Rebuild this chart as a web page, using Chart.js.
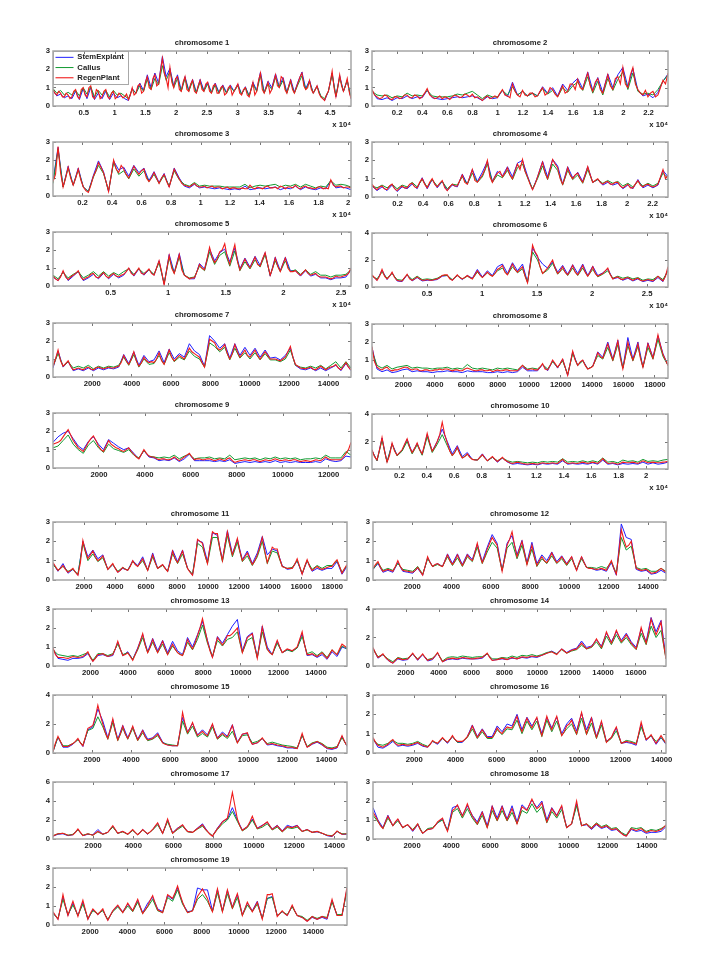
<!DOCTYPE html>
<html><head><meta charset="utf-8">
<script src="https://cdn.jsdelivr.net/npm/chart.js@4"></script>
<style>
html,body{margin:0;padding:0;background:#fff;width:720px;height:960px;overflow:hidden}
canvas{position:absolute;filter:blur(0.4px)}
</style></head><body>
<script>
const seriesNames=["StemExplant","Callus","RegenPlant"];
const titles=["chromosome 1","chromosome 2","chromosome 3","chromosome 4","chromosome 5","chromosome 6","chromosome 7","chromosome 8","chromosome 9","chromosome 10","chromosome 11","chromosome 12","chromosome 13","chromosome 14","chromosome 15","chromosome 16","chromosome 17","chromosome 18","chromosome 19"];
const xMaxes=[48400,23550,20200,23200,25870,26900,15140,18830,12970,21600,18950,14910,15650,17830,15050,14215,14630,14980,15810];
const xSteps=[5000,2000,2000,2000,5000,5000,2000,2000,2000,2000,2000,2000,2000,2000,2000,2000,2000,2000,2000];
const yMaxes=[3,3,3,3,3,4,3,3,3,4,3,3,3,4,4,3,6,3,3];
const ySteps=[1,1,1,1,1,2,1,1,1,2,1,1,1,2,2,1,2,1,1];
const hasExponent=[1,1,1,1,1,1,0,0,0,1,0,0,0,0,0,0,0,0,0];

const regen1=[.9,.7,.6,.8,.7,.5,.5,.7,.6,.4,.5,.8,.9,.5,.4,.9,1.0,.6,.5,1.0,1.1,.5,.4,.9,.8,.4,.5,.8,.9,.5,.4,.7,.8,.4,.5,.7,.6,.45,.5,.65,.35,.6,1.0,.6,.7,1.1,1.2,.7,.8,1.3,1.6,1.0,.9,1.5,1.7,1.1,1.2,1.9,2.6,1.8,1.5,1.0,2.1,1.3,1.0,1.5,1.6,.9,.8,1.3,1.6,.9,.8,1.2,1.4,.8,.7,1.1,1.4,.9,.8,1.2,1.3,.8,.7,1.1,1.2,.7,.7,1.0,1.1,.6,.7,1.0,1.1,.6,.8,1.0,1.2,.7,.6,.9,1.0,.6,.5,.9,1.3,.6,.8,1.4,1.8,.9,.7,1.0,1.3,.7,.9,1.3,1.7,1.1,1.0,1.6,1.5,.9,.7,1.1,1.4,.9,.7,1.0,1.3,1.6,1.8,1.1,.9,1.0,1.4,.9,.7,.9,1.1,.7,.5,.4,.3,.6,.8,1.3,1.9,1.0,.5,1.0,1.7,1.1,.8,1.1,1.5,.8,.4];
const stem1=[.85,.55,.65,.45,.55,.4,.8,.35,.95,.4,1.0,.35,.7,.4,.8,.35,.7,.45,.55,.4,.3,.95,.7,1.25,.85,1.7,1.0,1.8,1.25,2.7,1.6,2.05,1.1,1.7,.85,1.6,.85,1.45,.75,1.45,.85,1.3,.75,1.25,.75,1.15,.75,1.15,.8,1.2,.65,1.05,.55,1.3,.85,1.85,.75,1.35,1.0,1.75,1.05,1.55,.75,1.45,.75,1.35,1.85,.95,1.4,.7,1.1,.5,.3,.8,1.8,.5,1.65,.8,1.4,.4];
const callus1=[.95,.7,.85,.6,.75,.6,.85,.55,1.0,.65,1.05,.5,.85,.6,.85,.5,.85,.6,.7,.55,.4,.9,.7,1.1,.8,1.45,.9,1.5,1.15,2.2,1.4,1.9,1.0,1.5,.8,1.5,.8,1.35,.7,1.3,.8,1.2,.7,1.15,.7,1.05,.7,1.05,.8,1.1,.65,1.0,.55,1.2,.8,1.65,.7,1.2,.9,1.55,1.0,1.4,.7,1.3,.7,1.2,1.65,.9,1.3,.7,1.05,.55,.4,.8,1.7,.55,1.55,.8,1.4,.45];

const regen2=[.9,.6,.5,.4,.45,.6,.55,.4,.35,.5,.5,.4,.45,.6,.6,.45,.45,.6,.55,.4,.5,.7,.95,.6,.5,.4,.45,.55,.4,.5,.45,.35,.5,.6,.55,.45,.5,.65,.6,.5,.65,.45,.5,.4,.3,.45,.55,.4,.45,.55,.45,.7,.9,.6,.55,.45,1.2,.8,.6,.5,.85,.6,.55,.7,.7,.5,.55,.8,1.0,.6,.7,1.0,.9,.65,.5,.8,1.1,.7,.8,1.2,1.2,.9,1.45,1.0,.9,1.4,1.8,1.1,.8,1.3,1.5,.9,.7,1.2,1.7,1.1,.9,1.5,1.6,1.2,2.1,1.2,1.0,1.7,2.1,1.2,.9,.7,.6,.85,.5,.7,.8,.5,.6,1.0,1.4,1.2,1.8];
const stem2=[.85,.4,.35,.45,.3,.45,.4,.55,.4,.5,.45,.85,.45,.4,.35,.4,.45,.5,.45,.5,.55,.45,.3,.5,.4,.45,.85,.5,1.3,.6,.8,.55,.7,.55,1.05,.7,1.0,.55,1.2,.85,1.25,1.5,.95,1.85,.85,1.55,.75,1.75,1.0,1.7,2.1,1.05,2.05,.85,.55,.65,.45,.75,1.35,1.75];
const callus2=[.8,.6,.55,.6,.45,.55,.5,.7,.55,.6,.55,.85,.55,.5,.5,.5,.55,.65,.6,.7,.8,.6,.4,.6,.5,.5,.85,.6,1.05,.6,.8,.55,.7,.55,.95,.65,.85,.5,1.0,.75,1.1,1.3,.85,1.6,.7,1.35,.6,1.5,.85,1.45,1.85,.9,1.8,.8,.65,.7,.6,.9,1.35,1.7];

const regen3=[.8,1.2,2.75,1.3,.5,1.0,1.6,1.0,.6,1.0,1.5,.9,.5,.3,.2,.6,1.1,1.4,1.85,1.6,1.3,.8,.25,1.1,2.0,1.5,1.3,1.7,1.5,1.2,1.0,1.3,1.65,1.4,1.2,1.4,1.5,1.0,.8,1.0,1.3,1.0,.7,1.0,1.2,.8,.5,1.0,1.5,1.2,.95,.7,.6,.55,.5,.6,.7,.55,.5,.5,.55,.45,.5,.55,.45,.5,.5,.4,.45,.5,.4,.45,.45,.4,.4,.45,.4,.4,.6,.45,.4,.5,.45,.4,.5,.55,.45,.45,.5,.4,.55,.5,.4,.5,.5,.45,.6,.45,.4,.5,.55,.45,.45,.4,.4,.5,.5,.4,.45,.4,.9,.6,.5,.55,.55,.45,.5,.5,.45];
const stem3=[.85,2.7,.5,1.65,.6,1.55,.5,.25,1.15,1.95,1.35,.25,1.95,1.45,1.6,1.1,1.7,1.3,1.55,.85,1.35,.75,1.25,.5,1.55,1.0,.55,.45,.65,.45,.5,.45,.4,.45,.4,.35,.4,.35,.55,.35,.4,.45,.4,.45,.5,.35,.45,.4,.55,.35,.5,.4,.35,.45,.4,.85,.45,.5,.45,.35];
const callus3=[.7,2.6,.5,1.55,.6,1.45,.5,.25,1.05,1.7,1.25,.3,1.85,1.2,1.4,.95,1.5,1.1,1.4,.8,1.2,.7,1.15,.55,1.4,.9,.65,.55,.75,.55,.6,.55,.55,.55,.5,.5,.5,.5,.65,.45,.55,.6,.55,.6,.65,.5,.6,.55,.65,.5,.65,.55,.45,.55,.5,.85,.6,.65,.6,.5];

const regen4=[.7,.5,.4,.55,.6,.45,.4,.6,.7,.45,.35,.5,.6,.5,.5,.7,.75,.55,.5,.8,1.0,.7,.5,.8,1.0,.7,.55,.75,.9,.5,.35,.55,.7,.6,.6,.9,1.2,.8,.7,1.1,1.5,.9,.8,1.0,1.2,1.5,2.0,1.1,.8,1.1,1.3,1.4,1.1,1.3,1.6,1.2,1.0,1.4,1.8,1.5,2.05,1.4,1.1,.7,.4,.7,1.1,1.5,1.9,1.3,1.0,1.5,2.05,1.8,1.6,1.0,.7,1.1,1.6,1.2,1.0,1.2,1.3,1.0,.8,1.2,1.65,1.2,.8,.9,1.0,.8,.7,.8,.85,.7,.7,.8,.8,.6,.5,.6,.7,.5,.5,.7,.9,.65,.55,.65,.7,.6,.55,.6,.7,1.1,1.5,1.0,1.2];
const stem4=[.6,.35,.55,.35,.65,.3,.55,.45,.7,.45,1.05,.45,.95,.5,.85,.35,.65,.55,1.25,.7,1.5,.85,1.35,1.95,.85,1.4,1.15,1.65,1.1,1.85,2.0,1.15,.4,1.1,1.95,1.1,2.05,1.7,.7,1.65,1.05,1.35,.85,1.65,.8,.95,.65,.8,.65,.75,.45,.65,.45,.95,.5,.65,.5,.65,1.45,1.1];
const callus4=[.6,.5,.65,.5,.7,.45,.65,.55,.8,.55,.95,.55,.95,.6,.85,.45,.7,.65,1.1,.7,1.3,.8,1.1,1.8,.8,1.2,1.05,1.45,.95,1.6,1.8,1.05,.45,1.0,1.7,.95,1.8,1.45,.65,1.45,.95,1.2,.75,1.5,.8,.95,.75,.9,.75,.85,.6,.75,.55,.85,.6,.75,.6,.75,1.3,1.0];

const regen5=[.55,.4,.3,.5,.85,.5,.35,.5,.6,.7,.85,.5,.35,.45,.5,.65,.7,.5,.45,.6,.75,.55,.45,.6,.7,.55,.5,.6,.65,.8,1.0,.7,.6,.8,1.0,.7,.65,.8,.95,.7,.6,1.0,1.4,.8,.05,.9,1.7,1.0,.7,1.2,1.75,.9,.6,.5,.4,.45,.45,.8,1.2,1.0,.9,1.5,2.15,1.6,1.3,1.5,1.9,2.0,2.35,1.6,1.2,1.8,2.3,1.4,.9,1.2,1.5,1.2,1.0,1.3,1.6,1.2,1.1,1.5,1.85,1.2,.6,1.0,1.55,1.1,.8,1.2,1.55,1.0,.8,.8,.85,.7,.6,.75,.9,.7,.6,.65,.7,.55,.5,.5,.5,.45,.4,.45,.55,.5,.5,.55,.6,.7,1.0];
const stem5=[.5,.3,.8,.3,.55,.8,.3,.45,.65,.4,.7,.4,.65,.45,.6,1.0,.55,.95,.6,.9,.6,1.4,.1,1.75,.75,1.8,.6,.4,.4,1.25,.95,2.05,1.4,1.85,2.05,1.35,2.1,.95,1.55,1.05,1.65,1.15,1.85,.55,1.6,.85,1.6,.85,.85,.55,.85,.55,.65,.45,.45,.35,.45,.45,.5,.9];
const callus5=[.6,.4,.75,.45,.65,.8,.45,.6,.8,.55,.8,.55,.75,.6,.8,.95,.65,.95,.7,.9,.65,1.3,.15,1.55,.7,1.6,.6,.45,.5,1.1,.85,1.9,1.2,1.7,1.9,1.1,1.95,.85,1.35,.95,1.45,1.05,1.75,.6,1.4,.8,1.4,.8,.9,.65,.9,.65,.8,.6,.6,.5,.6,.6,.65,.9];

const regen6=[.9,.7,.5,.8,1.3,.8,.6,.8,1.1,.7,.5,.45,.45,.7,.95,.6,.5,.6,.75,.6,.5,.5,.55,.5,.5,.55,.6,.7,.85,.9,.9,.6,.5,.7,.9,.7,.6,.7,.85,.7,.6,.9,1.2,.9,.7,.9,1.1,.9,.8,1.0,1.3,1.4,1.6,1.1,.9,1.3,1.7,1.3,1.1,1.3,1.5,.8,.3,1.5,3.1,2.6,2.3,1.5,1.0,1.2,1.4,1.7,2.0,1.4,1.0,1.2,1.5,1.1,.9,1.2,1.6,1.1,.9,1.2,1.6,1.1,.8,1.1,1.5,1.0,.8,.9,1.0,1.2,1.4,.9,.6,.7,.75,.6,.55,.65,.7,.6,.5,.6,.65,.5,.45,.5,.55,.5,.45,.6,.8,.6,.45,.8,1.5];
const stem6=[.85,.5,1.25,.55,1.05,.45,.4,.9,.45,.7,.45,.5,.5,.55,.8,.85,.5,.85,.55,.85,.65,1.3,.75,1.2,.85,1.5,1.7,1.0,1.8,1.2,1.7,.35,2.9,2.2,1.7,1.4,1.85,1.1,1.6,.95,1.65,1.0,1.7,.85,1.55,.85,1.05,1.35,.6,.7,.5,.65,.45,.6,.4,.5,.4,.7,.4,1.3];
const callus6=[.8,.6,1.1,.65,1.0,.55,.5,.9,.55,.8,.55,.6,.55,.65,.85,.85,.55,.85,.6,.8,.6,1.1,.7,1.05,.8,1.2,1.4,.9,1.5,1.05,1.35,.35,2.6,2.0,1.0,1.25,1.75,.95,1.35,.85,1.4,.85,1.4,.8,1.3,.75,.95,1.2,.65,.8,.65,.75,.6,.7,.5,.6,.55,.8,.55,1.2];

const regen7=[.6,1.0,1.5,.9,.6,.75,.9,.6,.4,.45,.5,.45,.4,.5,.55,.45,.4,.5,.55,.5,.45,.5,.55,.5,.5,.55,.6,.8,1.2,.9,.7,1.0,1.4,.9,.6,.8,1.1,.9,.8,.85,.8,1.0,1.35,.9,.7,1.1,1.5,1.1,.9,1.05,1.2,1.1,1.0,1.3,1.6,1.4,1.3,1.2,1.1,.8,.55,1.3,2.1,2.0,1.9,1.6,1.5,1.6,1.8,1.3,1.0,1.3,1.8,1.4,1.1,1.3,1.5,1.2,1.1,1.3,1.5,1.2,1.0,1.2,1.4,1.2,1.0,1.0,1.0,.95,.9,1.0,1.1,1.4,1.7,1.1,.7,.6,.5,.48,.45,.5,.55,.45,.4,.5,.6,.5,.4,.5,.55,.6,.7,.5,.4,.6,.8,.55,.4];
const stem7=[.5,1.45,.55,.85,.35,.45,.35,.5,.35,.5,.4,.5,.45,.55,1.25,.75,1.4,.65,1.2,.85,.95,1.45,.8,1.55,1.0,1.3,1.1,1.85,1.45,1.25,.6,2.3,2.0,1.6,1.85,1.05,1.85,1.2,1.65,1.2,1.6,1.1,1.5,1.05,1.1,.95,1.2,1.6,.65,.45,.4,.5,.35,.5,.35,.5,.65,.35,.75,.35];
const callus7=[.6,1.3,.6,.85,.5,.6,.5,.65,.45,.6,.5,.6,.55,.65,1.1,.65,1.25,.55,1.0,.7,.75,1.2,.7,1.35,.85,1.1,.95,1.45,1.15,1.0,.55,1.9,1.7,1.4,1.65,.95,1.6,1.05,1.35,1.0,1.35,.95,1.3,.95,.95,.85,1.0,1.5,.65,.55,.5,.6,.5,.65,.45,.65,.85,.5,.85,.5];

const regen8=[1.75,.9,.6,.5,.45,.55,.6,.45,.4,.45,.45,.5,.55,.6,.6,.5,.45,.5,.5,.4,.4,.45,.45,.4,.4,.45,.45,.5,.45,.5,.5,.45,.4,.45,.45,.4,.4,.5,.55,.5,.45,.4,.4,.45,.45,.4,.4,.45,.35,.4,.45,.4,.4,.45,.45,.4,.4,.4,.4,.55,.7,.55,.45,.5,.5,.45,.45,.6,.8,.5,.45,.7,1.0,.8,.6,.8,1.05,.6,.15,.8,1.5,1.0,.7,.9,1.0,.7,.5,.55,.65,1.0,1.4,1.2,1.1,1.5,1.9,1.4,1.0,1.5,2.05,1.1,.5,1.2,2.0,1.4,1.0,1.4,1.9,1.1,.6,1.2,1.9,1.5,1.1,1.7,2.4,1.8,1.3,1.0,.7];
const stem8=[1.7,.5,.35,.45,.3,.35,.45,.5,.35,.4,.35,.35,.3,.35,.35,.4,.35,.35,.3,.4,.35,.35,.35,.3,.3,.35,.3,.35,.3,.35,.6,.4,.4,.4,.75,.4,.95,.55,1.05,.15,1.45,.7,1.0,.5,.65,1.45,1.15,2.0,1.05,2.1,.55,2.25,1.05,2.0,.6,1.95,1.15,2.35,1.35,.7];
const callus8=[1.5,.7,.55,.7,.5,.6,.65,.7,.55,.6,.55,.55,.5,.55,.55,.6,.5,.55,.5,.75,.55,.5,.55,.5,.45,.55,.5,.55,.5,.45,.7,.5,.55,.5,.75,.5,.9,.6,.95,.2,1.35,.7,.95,.5,.65,1.25,1.05,1.7,.95,1.85,.55,1.8,.95,1.75,.6,1.7,1.05,2.15,1.2,.7];

const regen9=[1.3,1.35,1.4,1.5,1.7,1.9,2.1,1.8,1.5,1.3,1.1,1.0,.9,1.15,1.4,1.6,1.75,1.5,1.2,1.0,.9,1.2,1.5,1.3,1.2,1.1,1.05,.95,.9,1.0,1.1,.9,.75,.6,.5,.75,1.0,.8,.65,.6,.6,.5,.45,.5,.5,.45,.45,.5,.6,.5,.4,.5,.6,.7,.8,.6,.45,.5,.5,.45,.45,.5,.5,.45,.4,.45,.5,.45,.4,.5,.55,.4,.3,.35,.4,.42,.45,.42,.4,.45,.45,.4,.35,.4,.45,.42,.4,.45,.5,.45,.4,.42,.45,.42,.4,.45,.45,.4,.35,.38,.4,.38,.35,.4,.45,.42,.4,.5,.6,.5,.45,.45,.45,.45,.45,.6,.8,1.0,1.4];
const stem9=[1.4,1.7,1.9,2.0,1.6,1.2,1.0,1.45,1.7,1.3,1.0,1.55,1.35,1.15,1.0,1.1,.8,.5,.95,.6,.55,.4,.45,.4,.55,.35,.5,.75,.4,.4,.4,.4,.35,.4,.35,.45,.25,.3,.35,.3,.35,.3,.35,.3,.4,.3,.35,.3,.35,.3,.3,.3,.35,.3,.5,.4,.35,.4,.65,.6];
const callus9=[1.1,1.2,1.5,1.8,1.3,1.0,.8,1.25,1.5,1.1,.85,1.3,1.05,.95,.85,1.0,.7,.55,.95,.65,.6,.55,.6,.55,.7,.5,.65,.75,.5,.55,.55,.6,.5,.55,.5,.7,.45,.5,.55,.5,.55,.45,.55,.5,.6,.5,.55,.5,.55,.45,.5,.5,.55,.5,.7,.55,.55,.55,.9,.7];

const regen10=[1.4,.9,.65,1.4,2.3,1.3,.5,1.0,1.9,1.3,1.0,1.2,1.4,1.8,2.2,1.6,1.2,1.5,1.9,1.4,1.1,1.8,2.6,1.9,1.3,1.6,2.0,2.5,3.4,2.5,1.9,1.3,1.0,1.2,1.6,1.1,.8,.9,1.1,.85,.7,.65,.65,.85,1.05,.8,.6,.75,.9,.7,.55,.7,.85,.65,.55,.45,.4,.45,.5,.45,.4,.37,.35,.38,.4,.37,.35,.4,.45,.42,.4,.42,.45,.42,.4,.55,.7,.5,.4,.42,.45,.42,.4,.45,.5,.45,.4,.45,.5,.45,.4,.55,.75,.55,.4,.42,.45,.4,.35,.42,.5,.47,.45,.47,.5,.45,.4,.5,.6,.52,.45,.47,.5,.47,.45,.47,.5,.52,.55];
const stem10=[1.35,.6,2.25,.5,1.85,1.0,1.35,2.15,1.2,1.85,1.05,2.5,1.3,2.0,2.9,2.0,1.1,1.7,.9,1.2,.7,.65,1.1,.6,.85,.5,.8,.5,.35,.4,.35,.3,.35,.3,.4,.35,.4,.35,.6,.35,.4,.35,.4,.35,.45,.35,.65,.35,.4,.3,.4,.35,.4,.35,.5,.35,.45,.35,.4,.5];
const callus10=[1.3,.6,2.1,.5,1.8,.95,1.3,2.0,1.1,1.75,1.0,2.35,1.2,1.8,2.5,1.7,.95,1.5,.8,1.05,.7,.65,1.0,.6,.85,.6,.8,.6,.5,.55,.5,.45,.5,.45,.55,.5,.55,.5,.75,.5,.55,.5,.6,.5,.6,.5,.8,.5,.55,.45,.65,.55,.6,.5,.7,.55,.6,.55,.65,.7];

const regen11=[.9,.7,.5,.6,.75,.55,.4,.5,.6,.4,.25,.9,2.05,1.5,1.1,1.3,1.5,1.2,1.0,1.1,1.25,.9,.55,.7,.85,.6,.4,.5,.65,.55,.5,.7,1.0,.8,.7,.9,1.1,.8,.5,.9,1.3,.9,.6,.7,.8,.6,.45,.9,1.5,1.1,.9,1.2,1.5,1.0,.6,.4,.25,1.0,2.1,2.0,1.9,1.3,.85,1.7,2.5,2.4,2.4,1.6,1.0,1.8,2.5,1.8,1.3,1.7,2.15,1.5,1.0,1.2,1.4,1.1,.8,1.0,1.3,1.7,2.2,1.5,.9,1.3,1.7,1.6,1.6,1.1,.7,.65,.6,.6,.6,.8,1.1,.7,.3,.7,1.05,.7,.5,.6,.7,.6,.55,.6,.65,.7,.7,.9,1.05,.7,.35,.6,.8];
const stem11=[.85,.45,.85,.35,.55,.25,2.0,1.2,1.55,1.1,1.3,.55,.8,.4,.6,.5,1.0,.75,1.2,.5,1.4,.6,.8,.45,1.55,.95,1.55,.6,.25,2.05,1.95,.95,2.45,2.3,1.05,2.55,1.35,2.1,1.05,1.5,.85,1.4,2.25,1.3,1.6,1.5,.75,.55,.6,1.0,.3,1.0,.45,.6,.5,.6,.6,.95,.3,.7];
const callus11=[.8,.5,.7,.45,.55,.3,1.9,1.0,1.35,.95,1.15,.55,.8,.45,.65,.5,.95,.7,1.0,.5,1.2,.6,.75,.45,1.35,.85,1.35,.6,.3,1.9,1.7,.85,2.2,2.2,.95,2.3,1.2,1.95,.95,1.25,.75,1.2,2.0,.85,1.5,1.4,.7,.6,.65,1.0,.35,1.0,.55,.75,.6,.75,.75,1.0,.4,.75];

const regen12=[.6,.8,.95,.65,.45,.5,.55,.5,.45,.7,1.0,.7,.5,.47,.45,.42,.4,.5,.65,.45,.25,.7,1.2,.9,.7,.8,.85,.75,.7,1.0,1.3,1.0,.8,1.0,1.3,1.0,.75,1.0,1.3,1.1,1.0,1.4,1.9,1.3,.9,1.2,1.6,1.9,2.2,2.0,1.8,1.1,.45,1.1,1.8,2.1,2.5,1.8,1.2,1.6,2.0,1.4,.8,1.3,1.8,1.2,.75,1.0,1.2,1.0,.9,1.1,1.4,1.1,.9,1.0,1.2,1.0,.8,1.0,1.2,.8,.5,.9,1.2,.9,.65,.6,.6,.57,.55,.57,.6,.55,.5,.75,1.0,.6,.3,1.4,2.6,2.1,1.7,1.8,2.0,1.3,.6,.55,.5,.52,.55,.45,.35,.37,.4,.5,.6,.5,.4];
const stem12=[.55,.85,.4,.5,.4,.9,.45,.4,.35,.6,.25,1.15,.7,.85,.7,1.35,.85,1.35,.8,1.35,1.05,1.85,.95,1.7,2.35,1.9,.5,1.9,2.3,1.3,2.05,.9,1.95,.85,1.3,1.0,1.45,.95,1.25,.85,1.2,.5,1.2,.65,.6,.5,.55,.45,.9,.25,2.9,2.2,2.1,.55,.45,.5,.3,.35,.5,.35];
const callus12=[.55,.9,.5,.6,.5,.85,.55,.5,.45,.7,.3,1.1,.7,.8,.7,1.2,.75,1.15,.7,1.2,.95,1.7,.85,1.45,1.95,1.65,.5,1.65,1.95,1.1,1.8,.8,1.6,.7,1.1,.85,1.25,.85,1.1,.75,1.1,.55,1.1,.65,.65,.6,.7,.6,.95,.35,2.2,1.55,1.75,.65,.55,.6,.45,.45,.6,.45];

const regen13=[.95,.6,.45,.45,.45,.42,.4,.45,.5,.47,.45,.47,.5,.6,.75,.45,.25,.4,.6,.62,.65,.57,.5,.55,.6,.9,1.3,.9,.55,.6,.7,.5,.3,.6,.9,1.3,1.7,1.1,.7,1.0,1.4,1.0,.7,1.0,1.3,.9,.6,.9,1.15,.9,.7,.6,.55,.9,1.4,1.1,.9,1.2,1.6,2.0,2.5,1.9,1.3,.8,.45,1.0,1.5,1.3,1.1,1.3,1.6,1.6,1.7,1.85,2.0,1.3,.7,1.1,1.5,1.6,1.7,1.0,.4,1.2,2.05,1.4,.9,.7,.6,1.0,1.35,1.0,.7,.8,.9,.85,.8,.9,1.0,1.4,1.8,1.1,.6,.6,.65,.57,.5,.6,.7,.55,.4,.6,.85,.7,.6,.9,1.15,1.05,.95];
const stem13=[.9,.4,.35,.3,.4,.4,.45,.65,.25,.55,.6,.5,.55,1.25,.55,.75,.35,.95,1.65,.75,1.45,.8,1.35,.7,1.3,.8,.6,1.5,1.0,1.65,2.35,1.35,.45,1.55,1.2,1.65,2.1,2.45,.8,1.55,1.75,.45,2.1,1.0,.6,1.3,.7,.85,.8,.95,1.7,.55,.6,.45,.6,.35,.75,.5,1.0,.9];
const callus13=[.85,.6,.55,.5,.55,.5,.6,.7,.3,.65,.65,.55,.65,1.15,.6,.7,.35,.85,1.5,.7,1.25,.7,1.15,.6,1.05,.7,.55,1.25,.85,1.4,2.15,1.2,.5,1.35,1.05,1.4,1.5,1.8,.7,1.35,1.5,.45,1.8,.85,.6,1.2,.7,.85,.75,.95,1.55,.65,.75,.55,.75,.45,.85,.6,1.05,.9];

const regen14=[1.3,.9,.6,.7,.85,.6,.45,.3,.2,.4,.55,.5,.45,.47,.5,.7,.9,.65,.45,.65,.85,.6,.4,.45,.5,.7,.95,.6,.3,.4,.5,.52,.55,.52,.5,.55,.6,.57,.55,.52,.5,.52,.55,.57,.6,.75,.9,.6,.4,.42,.45,.5,.55,.5,.45,.52,.6,.55,.5,.57,.65,.62,.6,.65,.7,.67,.65,.7,.75,.82,.9,.95,1.0,.9,.8,1.0,1.2,1.05,.9,1.0,1.1,1.15,1.2,1.4,1.6,1.4,1.2,1.3,1.35,1.6,1.9,1.6,1.3,1.8,2.4,2.0,1.6,2.0,2.5,2.1,1.7,1.9,2.2,1.9,1.6,1.4,1.2,1.9,2.7,2.1,1.6,2.4,3.3,2.7,2.2,2.6,3.1,1.6,.5];
const stem14=[1.25,.55,.8,.4,.2,.5,.4,.45,.85,.4,.8,.35,.45,.9,.3,.45,.5,.45,.55,.5,.5,.5,.55,.85,.4,.45,.5,.45,.55,.5,.6,.55,.65,.6,.75,.9,1.05,.85,1.2,.95,1.15,1.25,1.75,1.3,1.4,1.85,1.4,2.3,1.7,2.4,1.8,2.3,1.7,1.3,2.6,1.7,3.4,2.4,3.2,.55];
const callus14=[1.2,.65,.8,.5,.3,.6,.5,.55,.85,.5,.8,.45,.55,.9,.35,.6,.65,.6,.7,.65,.6,.65,.65,.85,.5,.5,.6,.55,.7,.6,.75,.7,.8,.7,.8,.95,1.0,.85,1.15,.9,1.05,1.15,1.45,1.2,1.3,1.7,1.2,2.1,1.5,2.2,1.6,2.0,1.5,1.15,2.3,1.5,2.8,2.0,2.5,.5];

const regen15=[.1,.7,1.15,.8,.45,.45,.45,.55,.65,.8,1.0,.7,.5,1.1,1.7,1.8,1.9,2.5,3.3,2.6,2.0,1.4,1.0,1.6,2.35,1.5,.9,1.3,1.85,1.3,1.0,1.4,1.85,1.3,.9,1.2,1.55,1.1,.9,.95,1.0,1.15,1.3,1.0,.7,.6,.55,.52,.5,.5,.5,1.5,2.8,2.0,1.4,1.7,2.1,1.6,1.2,1.35,1.5,1.3,1.2,1.6,2.0,1.4,1.0,1.2,1.35,1.2,1.1,1.5,1.9,1.2,.7,1.0,1.3,1.35,1.4,.9,.6,.65,.7,.85,1.05,.8,.6,.62,.65,.6,.55,.52,.5,.45,.4,.4,.4,.35,.3,.8,1.35,.8,.4,.5,.65,.7,.8,.7,.6,.45,.35,.32,.3,.35,.4,.8,1.2,.8,.5];
const stem15=[.1,1.1,.4,.4,.6,.95,.45,1.6,1.8,3.05,2.2,1.05,2.3,.95,1.9,1.05,1.8,.95,1.6,.95,1.05,1.4,.75,.55,.5,.5,2.45,1.45,2.05,1.25,1.6,1.25,1.95,1.05,1.45,1.15,1.95,.75,1.3,1.35,.6,.7,1.0,.55,.6,.5,.45,.35,.35,.3,1.25,.4,.6,.75,.55,.3,.25,.35,1.15,.45];
const callus15=[.1,1.1,.5,.5,.65,.9,.55,1.55,1.7,2.5,1.8,.95,2.1,.85,1.7,.95,1.7,.85,1.4,.85,.95,1.2,.7,.6,.55,.5,2.2,1.3,1.85,1.1,1.35,1.1,1.8,.95,1.25,1.0,1.5,.7,1.2,1.25,.7,.8,1.0,.65,.75,.65,.55,.5,.45,.35,1.2,.45,.7,.8,.65,.4,.35,.45,1.05,.5];

const regen16=[.8,.55,.4,.35,.3,.38,.45,.6,.7,.5,.4,.42,.45,.42,.4,.42,.45,.5,.55,.45,.4,.35,.3,.45,.65,.55,.5,.65,.8,.65,.55,.7,.9,.7,.6,.6,.6,.7,.85,1.1,1.4,1.1,.8,1.0,1.2,1.0,.8,.8,.8,1.0,1.3,1.1,1.0,1.2,1.35,1.3,1.3,1.6,1.9,1.4,1.1,1.5,1.8,1.5,1.3,1.6,1.85,1.3,.9,1.4,1.9,1.5,1.2,1.6,1.9,1.4,.9,1.1,1.4,1.5,1.7,1.3,1.0,1.6,2.1,1.5,1.0,1.4,1.8,1.2,.8,1.2,1.65,1.1,.55,.7,.8,1.1,1.35,.9,.5,.55,.6,.57,.55,.5,.45,1.0,1.6,1.1,.7,.8,.95,.7,.5,.7,.9,.7,.5];
const stem16=[.75,.3,.25,.4,.6,.35,.4,.35,.4,.5,.35,.3,.6,.45,.75,.5,.85,.55,.55,.85,1.45,.85,1.25,.85,.85,1.4,1.1,1.5,1.4,2.0,1.2,1.85,1.4,1.8,1.0,1.85,1.3,1.85,1.0,1.5,1.8,1.15,2.05,1.2,1.85,.85,1.6,.6,.8,1.3,.5,.55,.5,.4,1.5,.65,.9,.45,.8,.45];
const callus16=[.7,.45,.4,.5,.65,.5,.5,.45,.5,.6,.45,.35,.6,.5,.75,.55,.85,.55,.6,.8,1.25,.75,1.1,.75,.75,1.2,.95,1.25,1.2,1.7,1.0,1.65,1.2,1.65,.85,1.7,1.1,1.65,.9,1.25,1.5,.95,1.8,.95,1.55,.75,1.45,.55,.75,1.15,.5,.65,.6,.5,1.35,.7,.9,.6,.8,.5];

const regen17=[.3,.45,.55,.57,.6,.5,.4,.42,.45,.7,1.05,.7,.35,.45,.55,.47,.4,.6,.8,.65,.5,.6,.7,1.05,1.4,1.0,.6,.7,.8,.65,.5,.75,1.0,.7,.45,.7,1.0,.75,.55,.75,1.0,1.35,1.7,1.1,.6,1.3,2.1,1.3,.6,.85,1.1,1.3,1.5,1.1,.8,.75,.7,.9,1.1,1.3,1.5,1.1,.8,.5,.3,.7,1.1,1.4,1.8,2.0,2.2,3.5,4.9,3.5,2.1,1.4,.9,1.1,1.3,1.8,2.4,1.7,1.1,1.25,1.4,1.6,1.8,1.4,1.0,1.2,1.4,1.1,.8,1.05,1.3,1.25,1.2,1.3,1.4,1.1,.8,.9,1.0,.85,.7,.75,.8,.7,.6,.5,.4,.35,.3,.55,.85,.65,.5,.52,.55];
const stem17=[.3,.5,.55,.35,.45,1.0,.35,.5,.45,1.0,.5,.7,1.35,.6,.8,.5,.95,.45,1.0,.5,1.0,1.65,.6,2.0,.65,1.15,1.45,.8,.7,1.15,1.6,.8,.3,1.15,1.85,2.1,3.3,2.0,.95,1.3,2.1,1.15,1.45,1.75,1.05,1.45,.85,1.45,1.25,1.45,.8,1.0,.7,.75,.6,.35,.25,.8,.5,.5];
const callus17=[.35,.55,.6,.4,.5,.95,.4,.55,.4,.75,.5,.7,1.25,.6,.75,.5,.9,.45,.95,.55,.95,1.5,.6,1.85,.6,1.0,1.35,.75,.7,1.05,1.35,.75,.35,1.0,1.6,2.0,2.9,1.85,.85,1.2,2.0,1.05,1.25,1.6,.95,1.25,.75,1.2,1.1,1.25,.8,.95,.7,.8,.6,.4,.35,.8,.55,.55];

const regen18=[1.4,1.2,.95,.7,.55,.9,1.2,.95,.7,.9,1.05,.8,.6,.7,.75,.6,.45,.6,.8,.5,.3,.4,.5,.52,.55,.7,.9,1.0,1.1,.7,.4,.9,1.5,1.6,1.8,1.5,1.2,1.5,1.85,1.5,1.2,1.0,.8,1.1,1.4,1.0,.6,1.1,1.7,1.3,1.0,1.3,1.7,1.3,1.0,1.3,1.6,1.2,.8,1.2,1.7,1.6,1.5,1.8,2.1,1.8,1.6,1.7,1.9,1.4,.9,1.2,1.6,1.4,1.2,1.5,1.75,1.1,.6,.7,.8,1.4,2.0,1.3,.7,.75,.8,.65,.55,.7,.8,.7,.6,.65,.7,.6,.5,.52,.55,.42,.3,.2,.15,.35,.55,.5,.45,.5,.55,.45,.35,.4,.45,.42,.4,.45,.5,.6,.75];
const stem18=[1.65,1.0,.6,1.25,.7,1.05,.6,.75,.4,.75,.3,.5,.55,.85,1.05,.45,1.65,1.75,1.25,1.75,1.25,.9,1.45,.7,1.75,1.1,1.75,1.05,1.75,.9,1.8,1.55,2.05,1.65,2.0,1.0,1.65,1.25,1.7,.6,.8,1.85,.7,.75,.5,.75,.55,.65,.45,.5,.3,.15,.5,.4,.45,.3,.35,.35,.4,.65];
const callus18=[1.25,.9,.55,1.1,.7,.95,.6,.75,.5,.8,.3,.55,.6,.85,1.0,.45,1.4,1.6,1.1,1.6,1.1,.75,1.25,.6,1.5,.95,1.5,.95,1.4,.8,1.5,1.35,1.85,1.4,1.7,.85,1.45,1.1,1.55,.6,.8,1.75,.7,.8,.6,.85,.65,.75,.55,.6,.35,.2,.6,.55,.6,.4,.5,.45,.55,.7];

const regen19=[.7,.5,.3,.9,1.6,1.0,.5,.9,1.25,.85,.45,.9,1.3,.8,.3,.6,.85,.7,.55,.7,.85,.5,.25,.5,.75,.9,1.05,.85,.65,.9,1.15,.95,.75,1.05,1.35,.95,.6,.8,1.0,1.3,1.55,1.15,.8,.72,.65,1.1,1.6,1.5,1.4,1.7,2.05,1.6,1.2,.9,.65,.7,.75,1.1,1.5,1.7,1.9,1.65,1.4,1.0,.7,1.3,1.9,1.3,.7,1.3,1.85,1.35,.9,1.3,1.65,1.1,.5,.85,1.2,.95,.7,.95,1.2,.75,.3,.95,1.6,1.6,1.65,1.05,.45,.6,.75,.6,.5,.75,1.05,.75,.5,.45,.4,.3,.2,.3,.45,.37,.3,.37,.45,.4,.35,.85,1.35,.9,.5,.5,.5,1.25,2.0];
const stem19=[.65,.3,1.5,.5,1.15,.5,1.2,.3,.8,.55,.8,.25,.75,1.0,.7,1.1,.75,1.3,.65,1.15,1.45,.85,.7,1.55,1.35,1.95,1.15,.7,.75,1.95,1.85,1.85,.75,1.85,.75,1.8,.95,1.6,.55,1.15,.75,1.25,.35,1.4,1.5,.5,.7,.5,1.0,.5,.4,.2,.4,.3,.4,.3,1.3,.5,.5,1.9];
const callus19=[.6,.35,1.35,.55,1.05,.5,1.1,.35,.75,.6,.75,.3,.7,.95,.65,1.0,.7,1.2,.6,.95,1.35,.75,.65,1.45,1.25,1.85,1.1,.65,.75,1.35,1.6,1.25,.7,1.7,.7,1.65,.85,1.45,.5,1.05,.7,1.1,.35,1.4,1.45,.5,.7,.55,.95,.5,.45,.25,.45,.35,.45,.4,1.2,.55,.55,1.8];

const stems=[stem1,stem2,stem3,stem4,stem5,stem6,stem7,stem8,stem9,stem10,stem11,stem12,stem13,stem14,stem15,stem16,stem17,stem18,stem19];
const calluses=[callus1,callus2,callus3,callus4,callus5,callus6,callus7,callus8,callus9,callus10,callus11,callus12,callus13,callus14,callus15,callus16,callus17,callus18,callus19];
const regens=[regen1,regen2,regen3,regen4,regen5,regen6,regen7,regen8,regen9,regen10,regen11,regen12,regen13,regen14,regen15,regen16,regen17,regen18,regen19];

// panel frames: left, top, width, height (page layout only)
const frames=[[53,51,298,55],[372,51,296,55],[53,142,298,54],[372,142,296,55],[53,232,298,54],[372,233,296,54],[53,323,298,54],[372,324,296,54],[53,413,298,55],[372,414,296,55],[53,522,294,58],[373,522,293,58],[53,609,294,57],[373,609,293,57],[53,695,294,58],[373,695,293,58],[53,782,294,57],[373,782,293,57],[53,868,294,57]];
const FONT="'Liberation Sans',Arial,sans-serif";
const TOP=13,BOTTOM=28,LEFT=25,RIGHT=24;
const TEXT={family:FONT,size:7.7,weight:'bold'};

const framePlugin={
  id:'frame',
  beforeUpdate(chart){
    const lg=chart.legend;
    if(lg&&lg.options.display){
      lg._layers=()=>[{z:5,draw(area){
        const a=chart.chartArea,c=chart.ctx;
        c.save();c.fillStyle='#fff';c.strokeStyle='#a8a8a8';c.lineWidth=1;
        c.fillRect(a.left,a.top,75,33);c.strokeRect(a.left+.5,a.top+.5,75,33);c.restore();
        lg.top=a.top;lg.bottom=a.bottom;
        lg.draw(area);
      }}];
    }
  },
  afterDraw(chart){
    const {ctx:c,chartArea:a,scales:{x,y}}=chart;
    c.save();
    c.strokeStyle='#777';c.lineWidth=1;c.beginPath();
    x.ticks.forEach((t,i)=>{const p=Math.round(x.getPixelForTick(i))+.5;c.moveTo(p,a.top);c.lineTo(p,a.top+3);});
    y.ticks.forEach((t,i)=>{const p=Math.round(y.getPixelForTick(i))+.5;c.moveTo(a.right,p);c.lineTo(a.right-3,p);});
    c.stroke();
    c.strokeStyle='#a6a6a6';c.lineWidth=1.5;c.strokeRect(a.left,a.top,a.right-a.left,a.bottom-a.top);
    c.restore();
  }
};

function pts(vals,xMax){return vals.map((v,i)=>({x:1+(xMax-1)*i/(vals.length-1),y:v}));}

titles.forEach((title,k)=>{
  const [l,t,w,h]=frames[k];
  const cv=document.createElement('canvas');
  cv.width=w+LEFT+RIGHT;cv.height=h+TOP+BOTTOM;
  cv.style.left=(l-LEFT)+'px';cv.style.top=(t-TOP)+'px';
  cv.style.zIndex=19-k;
  document.body.appendChild(cv);
  const ds=(name,vals,color,order,width)=>({label:name,data:pts(vals,xMaxes[k]),borderColor:color,backgroundColor:color,borderWidth:width,pointRadius:0,tension:0,pointStyle:'line',order});
  const exp=hasExponent[k];
  new Chart(cv,{
    type:'line',
    data:{datasets:[ds(seriesNames[0],stems[k],'#1f1fff',2,1),ds(seriesNames[1],calluses[k],'#109a30',1,1),ds(seriesNames[2],regens[k],'#f01c1c',0,1.1)]},
    plugins:[framePlugin],
    options:{
      responsive:false,animation:false,
      layout:{padding:{left:0,top:0,right:RIGHT,bottom:0}},
      plugins:{
        tooltip:{enabled:false},
        title:{display:true,text:title,fullSize:false,color:'#222',font:{...TEXT,lineHeight:1.17},padding:{top:0,bottom:4}},
        legend:{display:k===0,position:'chartArea',align:'start',
          labels:{usePointStyle:true,pointStyle:'line',pointStyleWidth:18,boxHeight:8,padding:2.5,color:'#222',font:TEXT,sort:(a,b)=>a.datasetIndex-b.datasetIndex}}
      },
      scales:{
        x:{type:'linear',min:1,max:xMaxes[k],
          afterBuildTicks(s){const list=[];for(let v=xSteps[k];v<=xMaxes[k];v+=xSteps[k])list.push({value:v});s.ticks=list;},
          afterFit(s){s.height=BOTTOM;},
          border:{display:false},
          grid:{drawOnChartArea:false,drawTicks:true,tickLength:-3,tickColor:'#777'},
          ticks:{autoSkip:false,maxRotation:0,minRotation:0,padding:5.5,color:'#222',font:TEXT,
            callback:v=>exp?String(v/10000):String(v)},
          title:{display:!!exp,text:'x 10\u2074',align:'end',color:'#222',font:{...TEXT,lineHeight:1.17},padding:{top:0,bottom:4.5}}
        },
        y:{min:0,max:yMaxes[k],
          afterFit(s){s.width=LEFT;},
          border:{display:false},
          grid:{drawOnChartArea:false,drawTicks:true,tickLength:-3,tickColor:'#777'},
          ticks:{stepSize:ySteps[k],padding:6,color:'#222',font:TEXT}
        }
      }
    }
  });
});
</script>
</body></html>
